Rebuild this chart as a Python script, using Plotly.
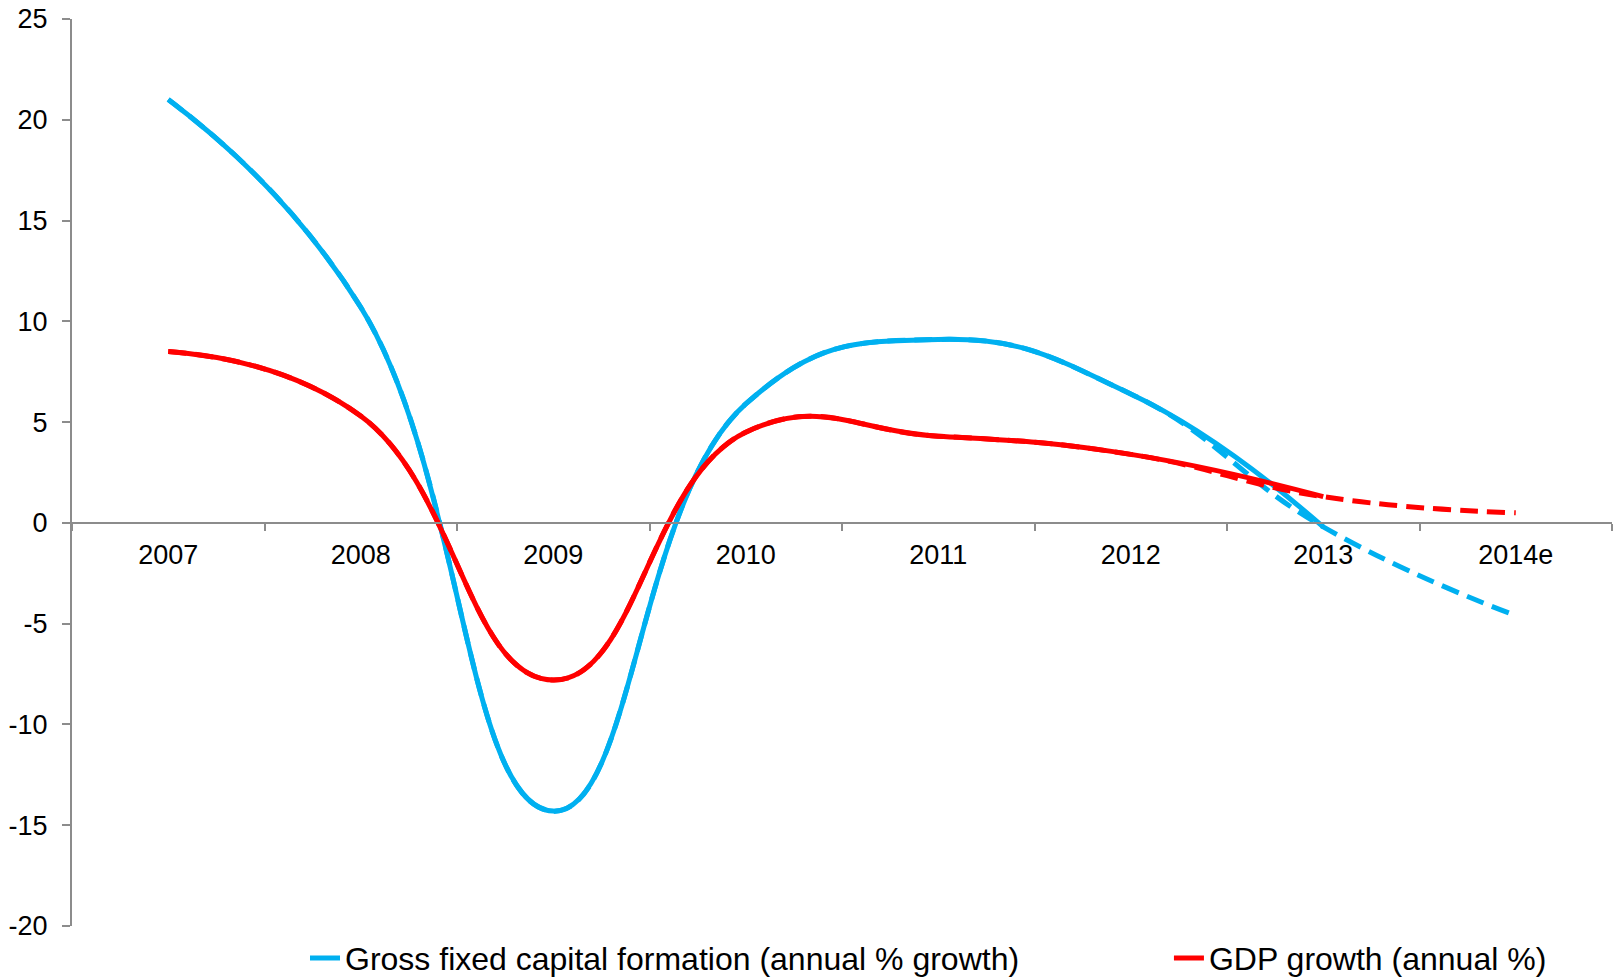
import plotly.graph_objects as go

# Annual growth rates, %
years = ["2007", "2008", "2009", "2010", "2011", "2012", "2013", "2014e"]
gfcf_growth = [21.0, 10.7, -14.3, 5.9, 9.1, 6.4, -0.2, -4.6]
gdp_growth = [8.5, 5.3, -7.8, 4.5, 4.3, 3.4, 1.3, 0.5]

# Actual figures run through 2013; the estimate year is shown dashed
actual_end = 7  # index after 2013

y_ticks = [-20, -15, -10, -5, 0, 5, 10, 15, 20, 25]
y_tick_text = [str(v) for v in y_ticks]

BLUE = "#00B0F0"
RED = "#FF0000"
AXIS = "#8C8C8C"
FONT = "Liberation Sans, Arial, sans-serif"
SMOOTH = 1.3

fig = go.Figure()


def add_series(values, name, color, legend):
    # dashed curve over the full period sits under the solid actuals
    fig.add_trace(go.Scatter(
        x=years, y=values, mode="lines", showlegend=False, hoverinfo="skip",
        line=dict(color=color, width=5, dash="18px,9px", shape="spline", smoothing=SMOOTH),
    ))
    fig.add_trace(go.Scatter(
        x=years[:actual_end], y=values[:actual_end], mode="lines", name=name,
        legend=legend,
        line=dict(color=color, width=5, shape="spline", smoothing=SMOOTH),
    ))


add_series(gfcf_growth, "Gross fixed capital formation (annual % growth)", BLUE, "legend")
add_series(gdp_growth, "GDP growth (annual %)", RED, "legend2")

legend_style = dict(
    orientation="h", xanchor="left", y=-0.0355, yanchor="middle",
    font=dict(family=FONT, size=32, color="black"),
    bgcolor="rgba(0,0,0,0)",
)

fig.update_layout(
    width=1613, height=980,
    margin=dict(l=72, r=1, t=19, b=54, autoexpand=False),
    paper_bgcolor="white", plot_bgcolor="white",
    font=dict(family=FONT, color="black", size=27),
    showlegend=True,
    legend=dict(x=0.1513, **legend_style),
    legend2=dict(x=0.7123, **legend_style),
    xaxis=dict(
        type="category", range=[-0.5, 7.5],
        anchor="free", position=20 / 45,
        showline=True, linecolor=AXIS, linewidth=2,
        ticks="outside", tickson="boundaries", ticklen=7, tickcolor=AXIS, tickwidth=2,
        ticklabelstandoff=8,
        showgrid=False, zeroline=False,
        tickfont=dict(family=FONT, size=27, color="black"),
    ),
    yaxis=dict(
        range=[-20, 25], tickvals=y_ticks, ticktext=y_tick_text,
        showline=True, linecolor=AXIS, linewidth=2,
        ticks="outside", ticklen=8, tickcolor=AXIS, tickwidth=2,
        ticklabelstandoff=9,
        showgrid=False, zeroline=False,
        tickfont=dict(family=FONT, size=27, color="black"),
    ),
)

fig.write_html("out.html")
